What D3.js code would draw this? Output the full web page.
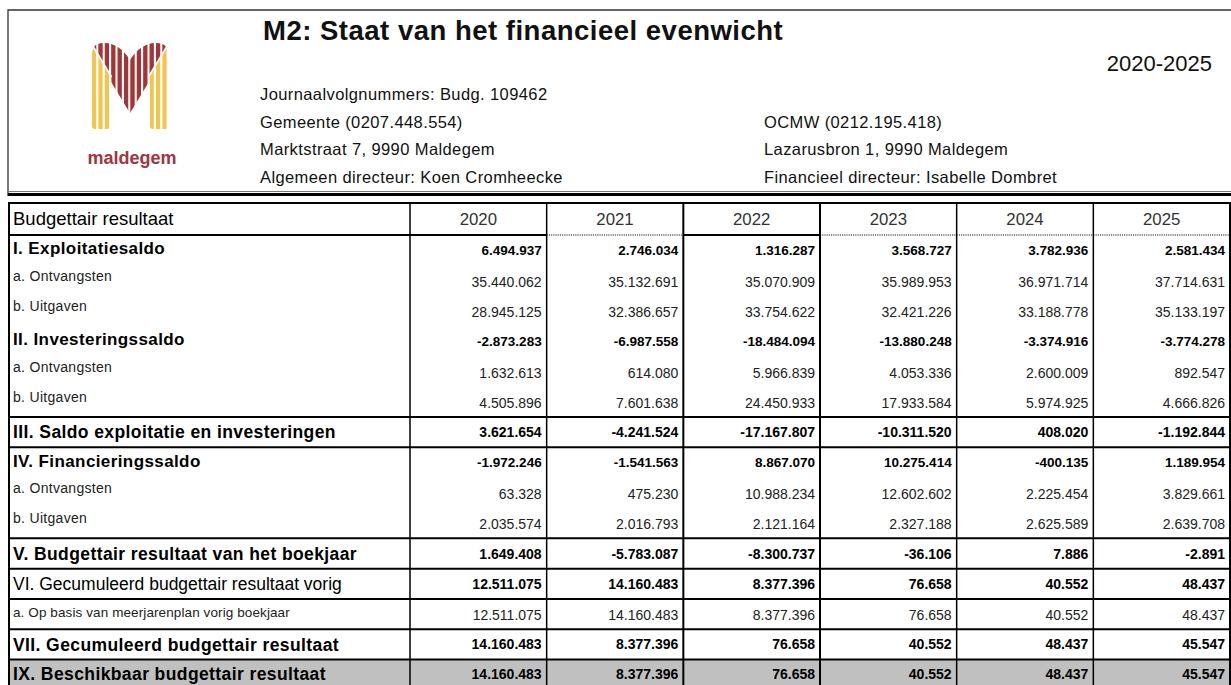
<!DOCTYPE html>
<html>
  <head>
    <meta charset="utf-8">
    <title>M2: Staat van het financieel evenwicht</title>
    <script src="https://cdn.jsdelivr.net/npm/d3@7"></script>
    <style>
      body { margin: 0; background: #fff; }
      svg { display: block; font-family: 'Liberation Sans', Arial, sans-serif; }
    </style>
  </head>
  <body>
    <svg></svg>
    <script>
      // table content
      let years = ["2020", "2021", "2022", "2023", "2024", "2025"];

      let rowLabels = [
        "I. Exploitatiesaldo",
        "a. Ontvangsten",
        "b. Uitgaven",
        "II. Investeringssaldo",
        "a. Ontvangsten",
        "b. Uitgaven",
        "III. Saldo exploitatie en investeringen",
        "IV. Financieringssaldo",
        "a. Ontvangsten",
        "b. Uitgaven",
        "V. Budgettair resultaat van het boekjaar",
        "VI. Gecumuleerd budgettair resultaat vorig",
        "a. Op basis van meerjarenplan vorig boekjaar",
        "VII. Gecumuleerd budgettair resultaat",
        "IX. Beschikbaar budgettair resultaat"
      ];

      let rowKinds = ["group", "sub", "sub", "group", "sub", "sub", "total",
                      "group", "sub", "sub", "total", "prev", "subsmall", "total", "final"];

      let v2020 = [6494937, 35440062, 28945125, -2873283, 1632613, 4505896, 3621654,
                   -1972246, 63328, 2035574, 1649408, 12511075, 12511075, 14160483, 14160483];
      let v2021 = [2746034, 35132691, 32386657, -6987558, 614080, 7601638, -4241524,
                   -1541563, 475230, 2016793, -5783087, 14160483, 14160483, 8377396, 8377396];
      let v2022 = [1316287, 35070909, 33754622, -18484094, 5966839, 24450933, -17167807,
                   8867070, 10988234, 2121164, -8300737, 8377396, 8377396, 76658, 76658];
      let v2023 = [3568727, 35989953, 32421226, -13880248, 4053336, 17933584, -10311520,
                   10275414, 12602602, 2327188, -36106, 76658, 76658, 40552, 40552];
      let v2024 = [3782936, 36971714, 33188778, -3374916, 2600009, 5974925, 408020,
                   -400135, 2225454, 2625589, 7886, 40552, 40552, 48437, 48437];
      let v2025 = [2581434, 37714631, 35133197, -3774278, 892547, 4666826, -1192844,
                   1189954, 3829661, 2639708, -2891, 48437, 48437, 45547, 45547];

      let seriesByYear = [v2020, v2021, v2022, v2023, v2024, v2025];

      // breaks drawn under these row indexes
      let lineAfter = [5, 6, 9, 10, 11, 12, 13];
      // year headers with a dotted underline
      let dottedYears = ["2021", "2023", "2024", "2025"];

      let w = 1231, h = 685;
      let fmt = d3.formatLocale({decimal: ",", thousands: ".", grouping: [3], currency: ["", ""], minus: "-"}).format(",d");

      let svg = d3.select("svg")
                  .attr("width", w)
                  .attr("height", h)
                  .attr("viewBox", `0 0 ${w} ${h}`);

      //header box
      svg.append("path")
         .attr("d", `M8,196 V10 H${w + 2}`)
         .attr("fill", "none")
         .attr("stroke", "#333")
         .attr("stroke-width", 1.3);
      svg.append("line")
         .attr("x1", 8).attr("x2", w)
         .attr("y1", 191.5).attr("y2", 191.5)
         .attr("stroke", "#777").attr("stroke-width", 1);
      svg.append("line")
         .attr("x1", 8).attr("x2", w)
         .attr("y1", 194.5).attr("y2", 194.5)
         .attr("stroke", "#000").attr("stroke-width", 3);

      //logo
      let logo = svg.append("g").attr("class", "logo");
      let mPath = "M92,126 V54 Q92,43 104,43 Q119,43 130,60 Q141,43 156,43 Q168,43 168,54 V126 Q168,129 165,129 H153 Q150,129 150,126 V80 L130,113 L110,80 V126 Q110,129 107,129 H95 Q92,129 92,126 Z";
      let defs = svg.append("defs");
      defs.append("clipPath").attr("id", "mclip").append("path").attr("d", mPath);
      defs.append("clipPath").attr("id", "redclip").append("path")
          .attr("d", "M80,0 H180 V26 L148.5,77 V120 H111.5 V77 L80,26 Z");

      let stripeX = d3.range(92, 168, 6.4);
      let drawStripes = (color, clip) => {
        logo.append("g")
            .attr("clip-path", "url(#mclip)")
            .append("g")
            .attr("clip-path", clip)
            .selectAll("rect")
            .data(stripeX)
            .join("rect")
            .attr("x", d => d)
            .attr("y", 40)
            .attr("width", 4.2)
            .attr("height", 92)
            .attr("fill", color);
      };
      drawStripes("#f2c64c", null);
      drawStripes("#a3333f", "url(#redclip)");
      logo.append("path")
          .attr("d", "M88,38 L111.5,77 M172,38 L148.5,77")
          .attr("fill", "none")
          .attr("stroke", "#fff")
          .attr("stroke-width", 1.8);

      logo.append("text")
          .attr("x", 132)
          .attr("y", 164)
          .attr("text-anchor", "middle")
          .attr("font-size", 18)
          .attr("font-weight", "bold")
          .attr("fill", "#a3333f")
          .text("maldegem");

      //title and info
      svg.append("text")
         .attr("x", 263)
         .attr("y", 40)
         .attr("font-size", 27.5)
         .attr("font-weight", "bold")
         .attr("letter-spacing", 0.5)
         .attr("fill", "#111")
         .text("M2: Staat van het financieel evenwicht");

      svg.append("text")
         .attr("x", 1212)
         .attr("y", 71)
         .attr("text-anchor", "end")
         .attr("font-size", 22)
         .attr("fill", "#111")
         .text("2020-2025");

      let infoLeft = ["Journaalvolgnummers: Budg. 109462", "Gemeente (0207.448.554)",
                      "Marktstraat 7, 9990 Maldegem", "Algemeen directeur: Koen Cromheecke"];
      let infoRight = ["", "OCMW (0212.195.418)", "Lazarusbron 1, 9990 Maldegem",
                       "Financieel directeur: Isabelle Dombret"];
      let infoY = d3.scaleLinear().domain([0, 3]).range([100, 183]);

      let drawInfo = (lines, cls, xPos) => {
        svg.selectAll("." + cls)
           .data(lines)
           .join("text")
           .attr("class", cls)
           .attr("x", xPos)
           .attr("y", (d, i) => infoY(i))
           .attr("font-size", 16.5)
           .attr("letter-spacing", 0.4)
           .attr("fill", "#111")
           .text(d => d);
      };
      drawInfo(infoLeft, "infoL", 260);
      drawInfo(infoRight, "infoR", 764);

      //table
      let tableLeft = 9, tableTop = 203, headBottom = 235, tableRight = 1230;
      let rowH = 30.33;

      let x = d3.scaleBand().domain(years).range([410, tableRight]);
      let y = d3.scaleLinear().domain([0, rowLabels.length]).range([headBottom, headBottom + rowLabels.length * rowH]);

      let kindStyle = {
        group:    {lSize: 17,   lWeight: "bold",   lFill: "#000", lSp: 0.4, lOff: -2, vSize: 13.5, vWeight: "bold",   vOff: 0},
        sub:      {lSize: 14,   lWeight: "normal", lFill: "#222", lSp: 0.3, lOff: -5, vSize: 14,   vWeight: "normal", vOff: 1},
        total:    {lSize: 17.5, lWeight: "bold",   lFill: "#000", lSp: 0.4, lOff: 0,  vSize: 14,   vWeight: "bold",   vOff: 0},
        prev:     {lSize: 17.5, lWeight: "normal", lFill: "#000", lSp: 0,   lOff: 0,  vSize: 14,   vWeight: "bold",   vOff: 0},
        subsmall: {lSize: 13.5, lWeight: "normal", lFill: "#222", lSp: 0.1, lOff: -2, vSize: 14,   vWeight: "normal", vOff: 1},
        final:    {lSize: 17.5, lWeight: "bold",   lFill: "#000", lSp: 0.4, lOff: -1, vSize: 14,   vWeight: "bold",   vOff: -1}
      };

      let rows = rowLabels.map((label, i) => ({
        i: i,
        label: label,
        kind: rowKinds[i],
        values: seriesByYear.map(s => s[i])
      }));

      // grey band for the final row
      svg.selectAll(".finalBg")
         .data(rows.filter(d => d.kind == "final"))
         .join("rect")
         .attr("class", "finalBg")
         .attr("x", tableLeft)
         .attr("y", d => y(d.i))
         .attr("width", tableRight - tableLeft)
         .attr("height", d => y(d.i + 1) - y(d.i))
         .attr("fill", "#c0c0c0");

      // header row
      svg.append("text")
         .attr("x", 13)
         .attr("y", 225)
         .attr("font-size", 18.5)
         .attr("fill", "#000")
         .text("Budgettair resultaat");

      svg.selectAll(".yearHead")
         .data(years)
         .join("text")
         .attr("class", "yearHead")
         .attr("x", d => x(d) + x.bandwidth() / 2)
         .attr("y", 225)
         .attr("text-anchor", "middle")
         .attr("font-size", 16.8)
         .attr("fill", "#333")
         .text(d => d);

      // header underline: solid or dotted per column
      svg.append("line")
         .attr("x1", tableLeft).attr("x2", x(years[0]) + x.bandwidth())
         .attr("y1", headBottom).attr("y2", headBottom)
         .attr("stroke", "#000").attr("stroke-width", 2.2);

      svg.selectAll(".headLine")
         .data(years.slice(1))
         .join("line")
         .attr("class", "headLine")
         .attr("x1", d => x(d))
         .attr("x2", d => x(d) + x.bandwidth())
         .attr("y1", headBottom).attr("y2", headBottom)
         .attr("stroke", d => dottedYears.includes(d) ? "#666" : "#000")
         .attr("stroke-width", d => dottedYears.includes(d) ? 1.6 : 2.2)
         .attr("stroke-dasharray", d => dottedYears.includes(d) ? "1.2,1" : null);

      // row labels
      svg.selectAll(".rowLabel")
         .data(rows)
         .join("text")
         .attr("class", "rowLabel")
         .attr("x", 13)
         .attr("y", d => {
           let s = kindStyle[d.kind];
           return (y(d.i) + y(d.i + 1)) / 2 + s.lOff + s.lSize * 0.36;
         })
         .attr("font-size", d => kindStyle[d.kind].lSize)
         .attr("font-weight", d => kindStyle[d.kind].lWeight)
         .attr("letter-spacing", d => kindStyle[d.kind].lSp)
         .attr("fill", d => kindStyle[d.kind].lFill)
         .text(d => d.label);

      // values
      let cells = rows.flatMap(r => r.values.map((v, j) => ({row: r, year: years[j], value: v})));

      svg.selectAll(".cell")
         .data(cells)
         .join("text")
         .attr("class", "cell")
         .attr("x", d => x(d.year) + x.bandwidth() - 5)
         .attr("y", d => {
           let s = kindStyle[d.row.kind];
           return (y(d.row.i) + y(d.row.i + 1)) / 2 + s.vOff + s.vSize * 0.36;
         })
         .attr("text-anchor", "end")
         .attr("font-size", d => kindStyle[d.row.kind].vSize)
         .attr("font-weight", d => kindStyle[d.row.kind].vWeight)
         .attr("fill", d => kindStyle[d.row.kind].vWeight == "bold" ? "#000" : "#222")
         .text(d => fmt(d.value));

      // horizontal breaks
      svg.selectAll(".hLine")
         .data(lineAfter)
         .join("line")
         .attr("class", "hLine")
         .attr("x1", tableLeft).attr("x2", tableRight)
         .attr("y1", d => y(d + 1)).attr("y2", d => y(d + 1))
         .attr("stroke", "#000")
         .attr("stroke-width", 2);

      // vertical dividers
      svg.selectAll(".vLine")
         .data(years)
         .join("line")
         .attr("class", "vLine")
         .attr("x1", d => x(d)).attr("x2", d => x(d))
         .attr("y1", tableTop).attr("y2", h)
         .attr("stroke", "#000")
         .attr("stroke-width", d => d == "2022" || d == "2023" ? 2 : 1.5);

      // outer frame
      svg.append("path")
         .attr("d", `M${tableLeft},${h + 2} V${tableTop} H${tableRight} V${h + 2}`)
         .attr("fill", "none")
         .attr("stroke", "#000")
         .attr("stroke-width", 2);
    </script>
  </body>
</html>
